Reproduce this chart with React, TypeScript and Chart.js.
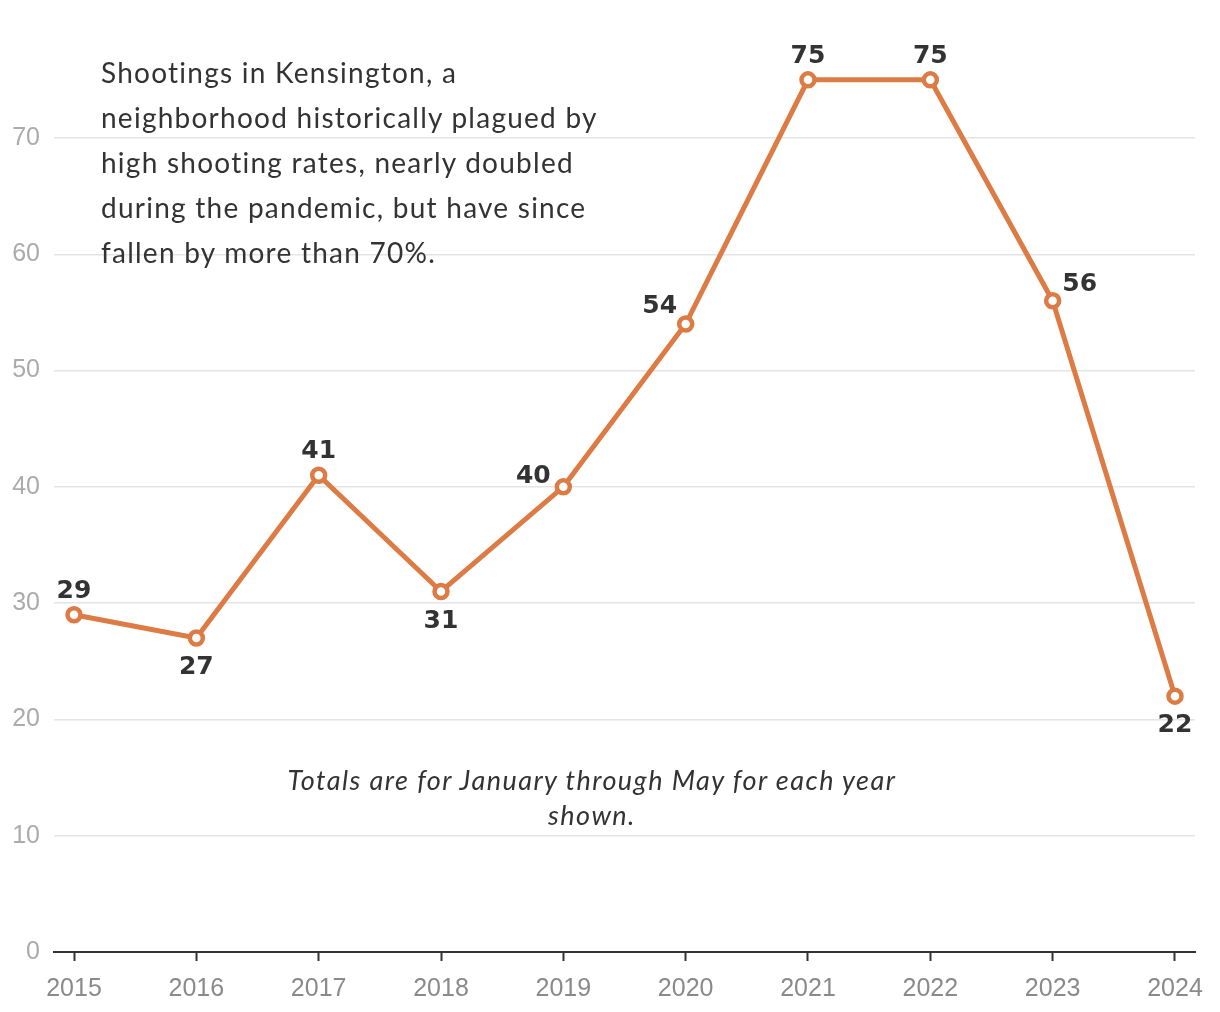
import React, { useEffect, useRef } from "react";
import { Chart, registerables } from "chart.js";

Chart.register(...registerables);

const years = [2015, 2016, 2017, 2018, 2019, 2020, 2021, 2022, 2023, 2024];
const shootings = [29, 27, 41, 31, 40, 54, 75, 75, 56, 22];
const labelPlacement = ["above", "below", "above", "below", "left", "upperleft", "above", "above", "right", "below"];
const yTickValues = [0, 10, 20, 30, 40, 50, 60, 70];
const introLines = [
  "Shootings in Kensington, a",
  "neighborhood historically plagued by",
  "high shooting rates, nearly doubled",
  "during the pandemic, but have since",
  "fallen by more than 70%.",
];
const noteLines = ["Totals are for January through May for each year", "shown."];

const ORANGE = "#dd7b45";

const valueLabelPlugin = {
  id: "valueLabels",
  afterDatasetsDraw(chart: any) {
    const ctx = chart.ctx;
    const meta = chart.getDatasetMeta(0);
    ctx.save();
    ctx.font = "bold 25px 'DejaVu Sans'";
    ctx.fillStyle = "#333333";
    ctx.textAlign = "center";
    ctx.textBaseline = "middle";
    meta.data.forEach((pt: any, i: number) => {
      const place = labelPlacement[i];
      let dx = 0;
      let dy = 0;
      if (place === "above") { dy = -23.5; }
      else if (place === "below") { dy = 29.5; }
      else if (place === "left") { dx = -30; dy = -10.5; }
      else if (place === "upperleft") { dx = -26; dy = -17.5; }
      else if (place === "right") { dx = 27; dy = -16.5; }
      ctx.fillText(String(shootings[i]), pt.x + dx, pt.y + dy);
    });
    ctx.restore();
  },
};

export default function App() {
  const canvasRef = useRef<HTMLCanvasElement | null>(null);

  useEffect(() => {
    if (!canvasRef.current) return;
    const chart = new Chart(canvasRef.current, {
      type: "line",
      data: {
        datasets: [
          {
            data: years.map((y, i) => ({ x: y, y: shootings[i] })),
            borderColor: ORANGE,
            borderWidth: 5,
            backgroundColor: "#ffffff",
            pointBackgroundColor: "#ffffff",
            pointBorderColor: ORANGE,
            pointBorderWidth: 4.5,
            pointRadius: 6.5,
            tension: 0,
            clip: false as any,
          },
        ],
      },
      options: {
        responsive: false,
        animation: false,
        devicePixelRatio: 1,
        layout: { padding: { top: 21.7, right: 25, left: 0, bottom: 0 } },
        plugins: { legend: { display: false }, tooltip: { enabled: false } },
        scales: {
          x: {
            type: "linear",
            min: 2015 - 20 / 122.3,
            max: 2024 + 20 / 122.3,
            afterBuildTicks: (scale: any) => {
              scale.ticks = years.map((v) => ({ value: v }));
            },
            afterFit: (scale: any) => {
              scale.height = 60;
              scale.paddingLeft = 0;
              scale.paddingRight = 0;
            },
            grid: {
              display: true,
              drawOnChartArea: false,
              drawTicks: true,
              tickLength: 9,
              tickColor: "#333333",
              tickWidth: 2,
            },
            border: { display: true, color: "#333333", width: 2 },
            ticks: {
              color: "#8a8a8a",
              font: { family: "'Liberation Sans'", size: 25 },
              padding: 13,
              maxRotation: 0,
              autoSkip: false,
              callback: (v: any) => String(v),
            },
          },
          y: {
            min: 0,
            max: 80,
            afterBuildTicks: (scale: any) => {
              scale.ticks = yTickValues.map((v) => ({ value: v }));
            },
            afterFit: (scale: any) => {
              scale.width = 54;
              scale.paddingTop = 0;
              scale.paddingBottom = 0;
            },
            grid: { color: "#e4e4e4", lineWidth: 1.5, drawTicks: false },
            border: { display: false },
            ticks: {
              color: "#ababab",
              font: { family: "'Liberation Sans'", size: 25 },
              padding: 14,
            },
          },
        },
      },
      plugins: [valueLabelPlugin],
    });
    return () => chart.destroy();
  }, []);

  return (
    <div style={{ position: "absolute", left: 0, top: 0, width: 1220, height: 1012, background: "#ffffff" }}>
      <canvas ref={canvasRef} width={1220} height={1012} style={{ position: "absolute", left: 0, top: 0 }} />
      <div
        style={{
          position: "absolute",
          left: 101,
          top: 50,
          fontFamily: "Lato, sans-serif",
          fontSize: 28,
          letterSpacing: "1.25px",
          lineHeight: "45px",
          color: "#333333",
          whiteSpace: "nowrap",
        }}
      >
        {introLines.map((l, i) => (
          <div key={i}>{l}</div>
        ))}
      </div>
      <div
        style={{
          position: "absolute",
          left: 192,
          width: 800,
          top: 762,
          fontFamily: "Lato, sans-serif",
          fontStyle: "italic",
          fontSize: 27,
          letterSpacing: "1.45px",
          lineHeight: "35px",
          color: "#333333",
          textAlign: "center",
          whiteSpace: "nowrap",
        }}
      >
        {noteLines.map((l, i) => (
          <div key={i}>{l}</div>
        ))}
      </div>
    </div>
  );
}
